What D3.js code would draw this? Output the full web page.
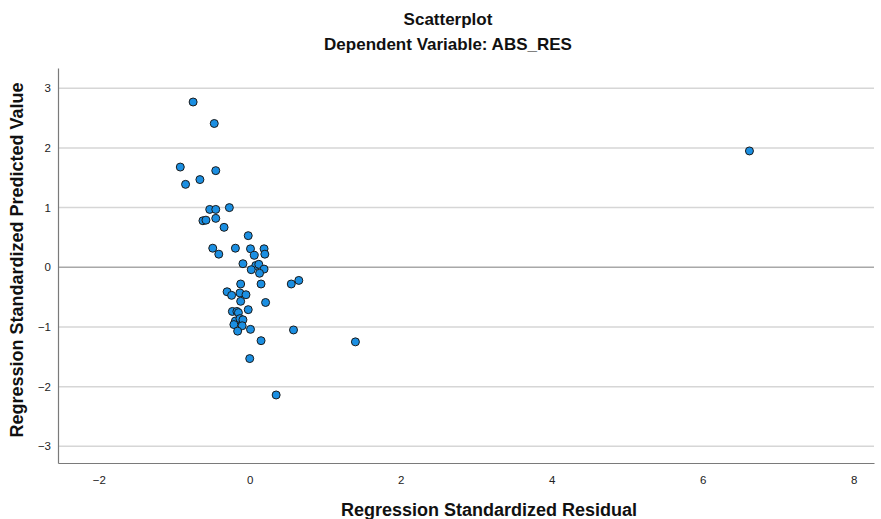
<!DOCTYPE html>
<html lang="en">
<head>
  <meta charset="UTF-8">
  <title>Scatterplot - ABS_RES</title>
  <style>
    body { margin: 0; background: #fff; font-family: "Liberation Sans", Arial, sans-serif; }
    .grid line { stroke: #d6d6d6; stroke-width: 1.5px; }
    .grid line.zero { stroke: #a8a8a8; stroke-width: 1.5px; }
    .tick text { font-size: 11.5px; fill: #222; }
    .title { font-size: 17px; font-weight: bold; fill: #111; }
    .axis-title { font-size: 18px; font-weight: bold; fill: #111; }
    .dot { fill: #1b8fe2; stroke: #1a1a1a; stroke-width: 1px; }
  </style>
</head>
<body>
  <svg id="chart" width="881" height="519"></svg>

  <script src="https://d3js.org/d3.v7.min.js"></script>
  <script>
    // regression standardized residual (x) and predicted value (y)
    const residual = [
      -0.75, -0.47, -0.92, -0.45, -0.66, -0.85, -0.53, -0.45, -0.27, -0.62,
      -0.58, -0.45, -0.34, -0.02, -0.49, -0.41, -0.19, 0.01, 0.19, 0.06,
      0.20, -0.09, 0.08, 0.12, 0.02, 0.19, 0.13, -0.12, 0.15, 0.55,
      0.65, -0.30, -0.24, -0.13, -0.05, -0.12, 0.21, -0.23, -0.17, -0.15,
      -0.02, -0.19, -0.13, -0.09, -0.21, -0.10, -0.16, 0.01, 0.58, 0.15,
      0.00, 0.35, 1.40, 6.62
    ];
    const predicted = [
      2.77, 2.41, 1.68, 1.62, 1.47, 1.39, 0.97, 0.97, 1.00, 0.78,
      0.79, 0.82, 0.67, 0.53, 0.32, 0.22, 0.32, 0.31, 0.31, 0.20,
      0.22, 0.06, 0.03, 0.05, -0.04, -0.03, -0.10, -0.28, -0.28, -0.28,
      -0.22, -0.41, -0.47, -0.43, -0.46, -0.57, -0.59, -0.74, -0.74, -0.76,
      -0.71, -0.90, -0.86, -0.88, -0.96, -0.98, -1.07, -1.04, -1.05, -1.23,
      -1.53, -2.14, -1.25, 1.95
    ];
    const xTicks = [-2, 0, 2, 4, 6, 8];
    const yTicks = [-3, -2, -1, 0, 1, 2, 3];

    const points = residual.map((r, i) => ({ x: r, y: predicted[i] }));

    const plot = { left: 58, right: 874, top: 68, bottom: 463 };

    const x = d3.scaleLinear().domain([-2.54, 8.27]).range([plot.left, plot.right]);
    const y = d3.scaleLinear().domain([-3.28, 3.34]).range([plot.bottom, plot.top]);

    const svg = d3.select('#chart');

    // titles
    svg.append('text').attr('class', 'title')
       .attr('x', 448).attr('y', 25).attr('text-anchor', 'middle')
       .text('Scatterplot');
    svg.append('text').attr('class', 'title')
       .attr('x', 448).attr('y', 50).attr('text-anchor', 'middle')
       .text('Dependent Variable: ABS_RES');

    // horizontal grid lines at y ticks (0 line darker)
    svg.append('g').attr('class', 'grid')
       .selectAll('line')
       .data(yTicks)
       .enter().append('line')
       .attr('class', d => d === 0 ? 'zero' : null)
       .attr('x1', plot.left).attr('x2', plot.right)
       .attr('y1', d => y(d)).attr('y2', d => y(d));

    // axes
    const yAxis = svg.append('g')
       .attr('transform', `translate(${plot.left},0)`)
       .call(d3.axisLeft(y).tickValues(yTicks).tickSize(0).tickPadding(7).tickFormat(d3.format('d')));
    const xAxis = svg.append('g')
       .attr('transform', `translate(0,${plot.bottom})`)
       .call(d3.axisBottom(x).tickValues(xTicks).tickSize(0).tickPadding(13).tickFormat(d3.format('d')));
    [yAxis, xAxis].forEach(a => {
      a.select('.domain').attr('stroke', '#7a7a7a').attr('stroke-width', 1.2);
      a.selectAll('.tick text').attr('font-family', '"Liberation Sans", Arial, sans-serif');
    });

    // axis titles
    svg.append('text').attr('class', 'axis-title')
       .attr('x', 489).attr('y', 516).attr('text-anchor', 'middle')
       .text('Regression Standardized Residual');
    svg.append('text').attr('class', 'axis-title')
       .attr('transform', 'translate(23,260) rotate(-90)')
       .attr('text-anchor', 'middle')
       .text('Regression Standardized Predicted Value');

    // points
    svg.append('g')
       .selectAll('circle')
       .data(points)
       .enter().append('circle')
       .attr('class', 'dot')
       .attr('cx', d => x(d.x))
       .attr('cy', d => y(d.y))
       .attr('r', 4);
  </script>
</body>
</html>
